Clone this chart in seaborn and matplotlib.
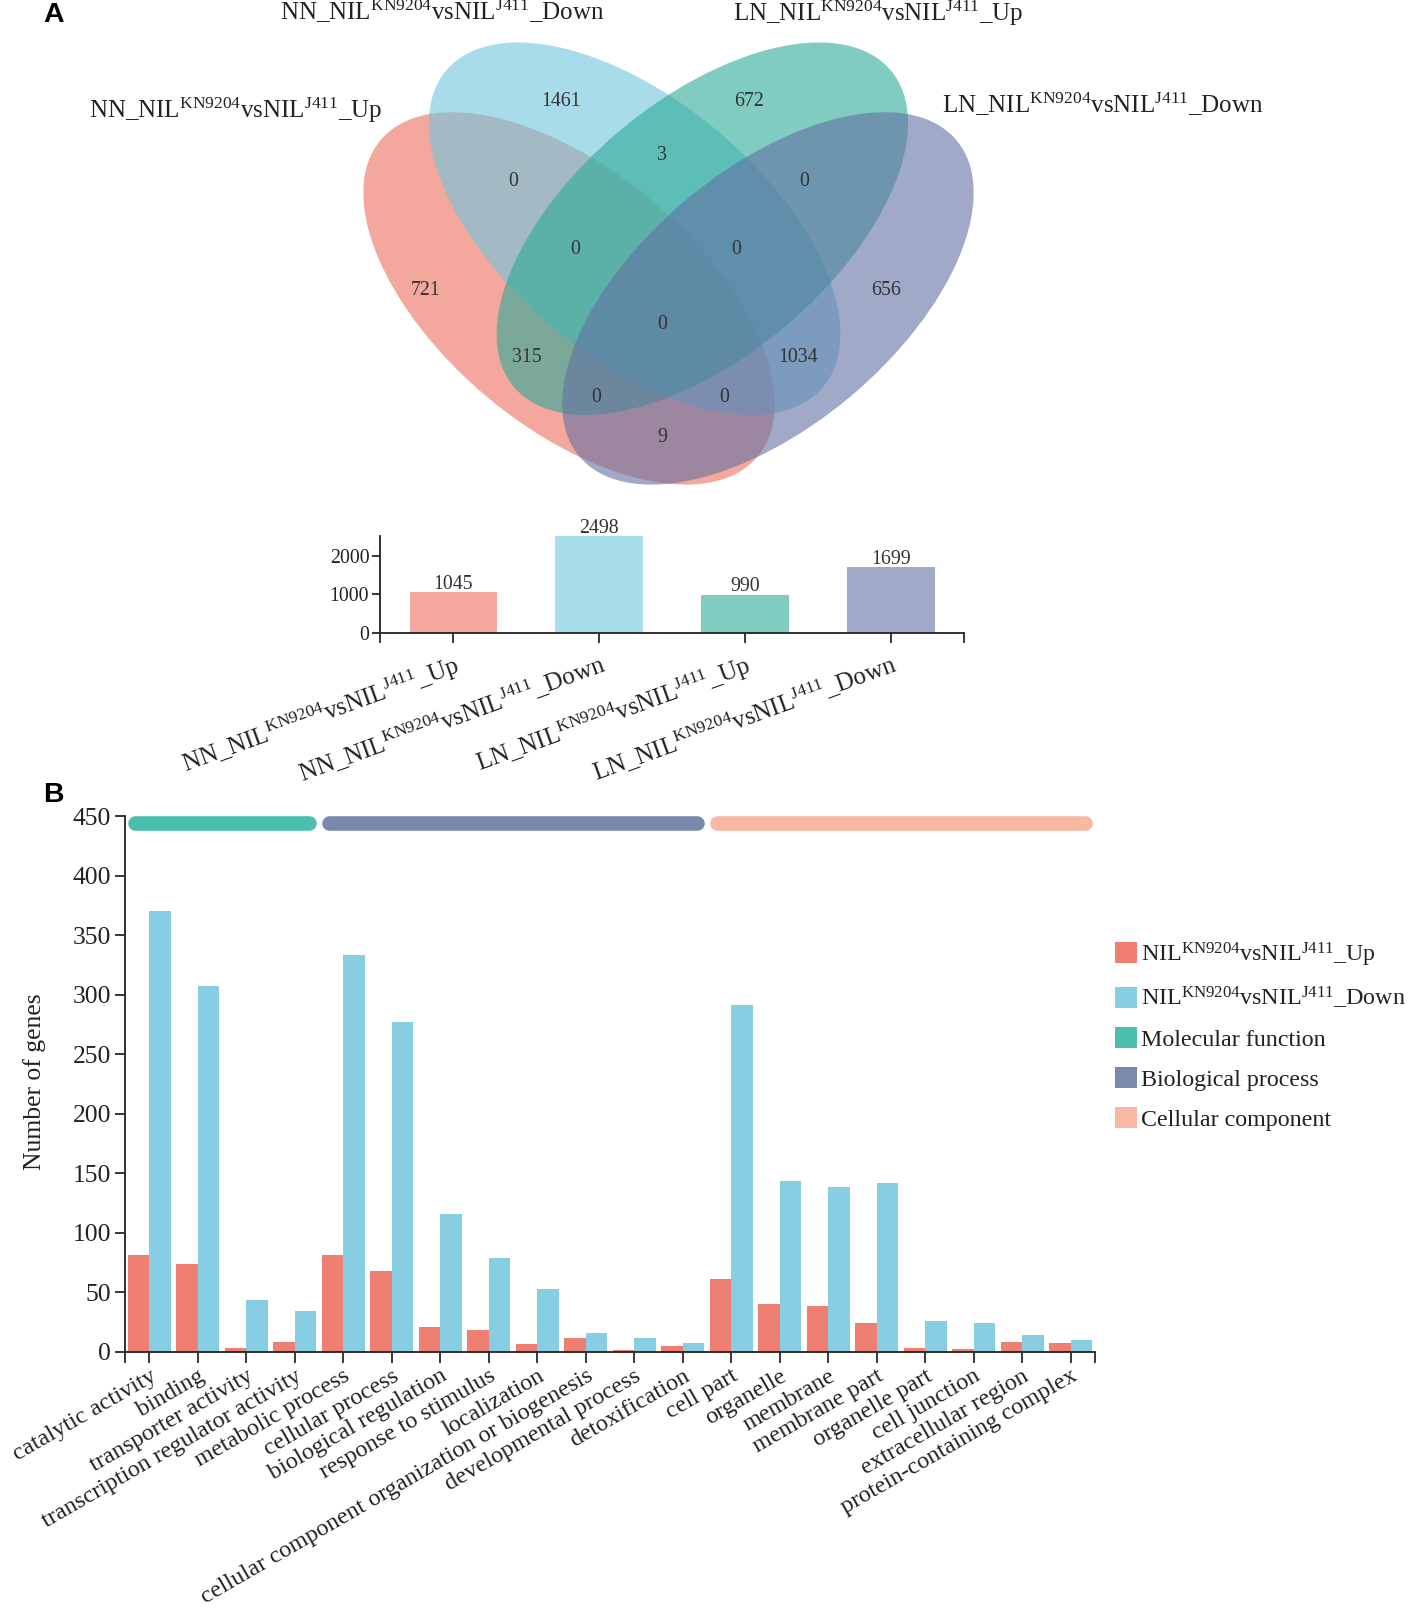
import matplotlib
matplotlib.use("Agg")
import matplotlib.pyplot as plt
from matplotlib.patches import Ellipse, Patch
import seaborn as sns
import pandas as pd

# ---------------- data ----------------
set_keys = ["NN_Up", "NN_Down", "LN_Up", "LN_Down"]
set_labels = [
    r"NN_NIL$^{\mathrm{KN9204}}$vsNIL$^{\mathrm{J411}}$_Up",
    r"NN_NIL$^{\mathrm{KN9204}}$vsNIL$^{\mathrm{J411}}$_Down",
    r"LN_NIL$^{\mathrm{KN9204}}$vsNIL$^{\mathrm{J411}}$_Up",
    r"LN_NIL$^{\mathrm{KN9204}}$vsNIL$^{\mathrm{J411}}$_Down",
]
set_totals = [1045, 2498, 990, 1699]

# Venn region counts (A=NN_Up, B=NN_Down, C=LN_Up, D=LN_Down)
venn_regions = ["B", "C", "A", "D", "BC", "AB", "CD", "ABC", "BCD",
                "ABCD", "AC", "BD", "ACD", "ABD", "AD"]
venn_counts = [1461, 672, 721, 656, 3, 0, 0, 0, 0, 0, 315, 1034, 0, 0, 9]

go_terms = ["catalytic activity", "binding", "transporter activity",
            "transcription regulator activity", "metabolic process",
            "cellular process", "biological regulation", "response to stimulus",
            "localization", "cellular component organization or biogenesis",
            "developmental process", "detoxification", "cell part", "organelle",
            "membrane", "membrane part", "organelle part", "cell junction",
            "extracellular region", "protein-containing complex"]
go_up = [81, 74, 3, 8, 81, 68, 21, 18, 6, 11, 1, 5, 61, 40, 38, 24, 3, 2, 8, 7]
go_down = [370, 307, 43, 34, 333, 277, 116, 79, 53, 16, 11, 7, 291, 143, 138, 142, 26, 24, 14, 10]
go_groups = ["Molecular function", "Biological process", "Cellular component"]
go_group_span = [(0, 3), (4, 11), (12, 19)]
series_labels = [r"NIL$^{\mathrm{KN9204}}$vsNIL$^{\mathrm{J411}}$_Up",
                 r"NIL$^{\mathrm{KN9204}}$vsNIL$^{\mathrm{J411}}$_Down"]

# ---------------- style ----------------
sns.set_style("ticks")
plt.rcParams["font.family"] = ["Liberation Serif", "DejaVu Serif"]
plt.rcParams["mathtext.fontset"] = "custom"
plt.rcParams["mathtext.rm"] = "Liberation Serif"
plt.rcParams["mathtext.it"] = "Liberation Serif:italic"
plt.rcParams["mathtext.bf"] = "Liberation Serif:bold"
TXT = "#222222"

venn_fill = ["#ED6C5C", "#6EC6DF", "#2BAA96", "#6171A3"]
bar_colors = ["#F4A79D", "#A8DDEC", "#80CCC0", "#A0AAC8"]
up_color = "#EE7F72"
down_color = "#87CEE2"
group_colors = ["#4BBFAD", "#7A89AD", "#F7B8A4"]

# layout frame (measured units)
W0, H0 = 1383.0, 1570.0
K = 1.025  # font scale
fx = lambda x: x / W0
fy = lambda y: 1 - y / H0

fig = plt.figure(figsize=(14.18, 16.10), dpi=100)

# ---------------- Venn ----------------
axv = fig.add_axes([0, fy(480), 1, 480 / H0])
axv.set_xlim(0, W0)
axv.set_ylim(480, 0)
axv.axis("off")
ell_centers = [(555, 291), (619, 223), (685, 223), (749, 291)]
ell_angles = [40, 40, -40, -40]
for (cx, cy), ang, col in zip(ell_centers, ell_angles, venn_fill):
    axv.add_patch(Ellipse((cx, cy), 480, 250, angle=ang, facecolor=col,
                          alpha=0.6, edgecolor="none"))
region_pos = [(547, 99), (731, 99), (415, 283), (864, 283), (646, 152),
              (501, 177), (784, 177), (561, 243), (718, 243), (646, 316),
              (514, 349), (778, 349), (581, 388), (706, 388), (646, 427)]
for (x, y), n in zip(region_pos, venn_counts):
    axv.text(x, y, str(n), ha="center", va="center", fontsize=14 * K, color="#333333")
label_pos = [(230, 115), (431, 20), (857, 20), (1076, 110)]
for (x, y), lab in zip(label_pos, set_labels):
    axv.text(x, y, lab, ha="center", va="baseline", fontsize=18, color=TXT)

fig.text(fx(52), fy(15), "A", ha="center", va="center", fontsize=20 * K,
         fontweight="bold", family="Liberation Sans", color="black")
fig.text(fx(52), fy(775), "B", ha="center", va="center", fontsize=20 * K,
         fontweight="bold", family="Liberation Sans", color="black")

# ---------------- totals bar chart ----------------
axb = fig.add_axes([fx(371), fy(617), (940 - 371) / W0, 94 / H0])
df_tot = pd.DataFrame({"set": set_keys, "total": set_totals})
sns.barplot(data=df_tot, x="set", y="total", hue="set", palette=bar_colors,
            legend=False, width=0.6, linewidth=0, saturation=1, ax=axb)
for c in axb.containers:
    axb.bar_label(c, padding=-1, fontsize=14 * K, color="#333333")
axb.set_xlim(-0.5, 3.5)
axb.set_ylim(0, 2500)
axb.set_yticks([0, 1000, 2000])
axb.set_xticks(range(4))
axb.set_xticklabels(set_labels, rotation=20, ha="right", va="top",
                    rotation_mode="anchor", fontsize=18, color=TXT)
axb.set_xticks([-0.5, 3.5], minor=True)
axb.tick_params(axis="x", which="both", direction="out", length=7, width=1.3, pad=6)
axb.tick_params(axis="y", direction="out", length=6, width=1.3, labelsize=14 * K,
                labelcolor=TXT, pad=2)
axb.set_xlabel("")
axb.set_ylabel("")
for s in ["top", "right"]:
    axb.spines[s].set_visible(False)
for s in ["left", "bottom"]:
    axb.spines[s].set_linewidth(1.3)
    axb.spines[s].set_color("#222222")

# ---------------- GO bar chart ----------------
ax2 = fig.add_axes([fx(122), fy(1318), 946 / W0, 522 / H0])
df_go = pd.DataFrame({
    "term": go_terms * 2,
    "count": go_up + go_down,
    "series": ["Up"] * len(go_terms) + ["Down"] * len(go_terms),
})
sns.barplot(data=df_go, x="term", y="count", hue="series",
            palette=[up_color, down_color], width=0.89, gap=0, linewidth=0,
            saturation=1, legend=False, ax=ax2)
ax2.set_xlim(-0.5, 19.5)
ax2.set_ylim(0, 450)
ax2.set_yticks(range(0, 451, 50))
ax2.set_xticks(range(len(go_terms)))
ax2.set_xticklabels(go_terms, rotation=30, ha="right", va="top",
                    rotation_mode="anchor", fontsize=17.5, color=TXT)
ax2.set_xticks([-0.5, 19.5], minor=True)
ax2.tick_params(axis="x", which="both", direction="out", length=8, width=1.3, pad=2)
ax2.tick_params(axis="y", direction="out", length=7, width=1.3, labelsize=18 * K,
                labelcolor=TXT, pad=3)
ax2.set_xlabel("")
ax2.set_ylabel("Number of genes", fontsize=18 * K, color=TXT)
ax2.yaxis.set_label_coords(-0.0814, 0.504)
for s in ["top", "right"]:
    ax2.spines[s].set_visible(False)
for s in ["left", "bottom"]:
    ax2.spines[s].set_linewidth(1.3)
    ax2.spines[s].set_color("#222222")

for (s, e), col in zip(go_group_span, group_colors):
    ax2.plot([s - 0.3, e + 0.3], [444, 444], color=col, lw=10.5,
             solid_capstyle="round", clip_on=False)

handles = [Patch(facecolor=up_color, edgecolor="none"),
           Patch(facecolor=down_color, edgecolor="none")] + \
          [Patch(facecolor=c, edgecolor="none") for c in group_colors]
labels = series_labels + go_groups
fig.legend(handles, labels, loc="upper left",
           bbox_to_anchor=(fx(1087), fy(917)), bbox_transform=fig.transFigure,
           frameon=False, fontsize=17.3, handlelength=0.95, handleheight=0.95,
           handletextpad=0.15, labelspacing=0.68, borderpad=0, borderaxespad=0,
           labelcolor=TXT)

fig.savefig("out.png", dpi=100)
